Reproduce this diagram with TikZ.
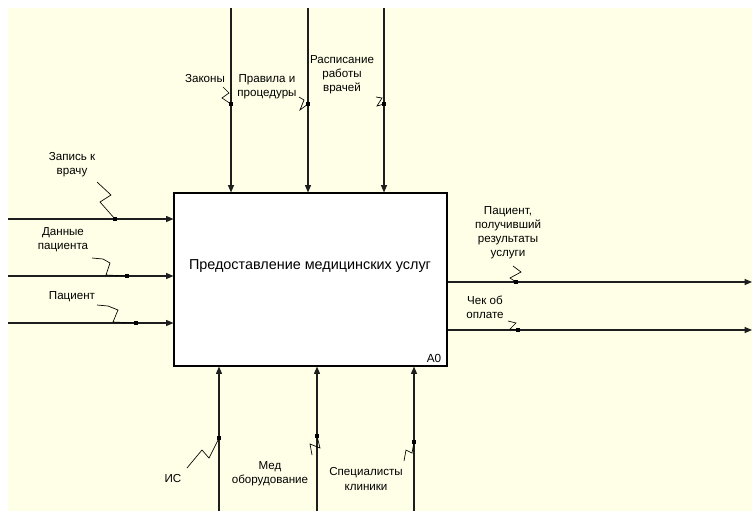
\documentclass[tikz,border=0pt]{standalone}
\usepackage{fontspec}
\setmainfont{Liberation Sans}
\usetikzlibrary{arrows.meta}
\definecolor{cream}{RGB}{255,255,232}
\definecolor{linegray}{RGB}{30,30,30}
\tikzset{
  arrowline/.style={draw=linegray,line width=0.8pt,-{Triangle[length=5.5pt,width=4.5pt]}},
  squig/.style={draw=black,line width=0.5pt},
  jdot/.style={fill=black,inner sep=0pt,minimum size=2.4pt},
  lbl/.style={font=\fontsize{8.7}{10.6}\selectfont,align=center,inner sep=0pt},
}
\begin{document}
\begin{tikzpicture}[x=0.75pt,y=-0.75pt]
\useasboundingbox (0,0) rectangle (752,511);
\fill[cream] (8,8) rectangle (752,511);

\node[draw=black,fill=white,line width=0.8pt,minimum width=204.75pt,minimum height=129.75pt,inner sep=0pt] (func) at (310.5,279.5) {};
\node[font=\fontsize{10.8}{12}\selectfont,inner sep=0pt] (title) at (310,266) {Предоставление медицинских услуг};
\node[font=\fontsize{8.8}{10}\selectfont,inner sep=0pt,anchor=south east] (num) at ([xshift=-4.5pt,yshift=3pt]func.south east) {A0};

\coordinate (in1) at (8,219);
\coordinate (in2) at (8,276);
\coordinate (in3) at (8,323);
\coordinate (ct1) at (231,8);
\coordinate (ct2) at (308,8);
\coordinate (ct3) at (384,8);
\coordinate (out1) at (752,282);
\coordinate (out2) at (752,330);
\coordinate (me1) at (219,511);
\coordinate (me2) at (317,511);
\coordinate (me3) at (414,511);

\draw[arrowline] (in1) -- (in1 -| func.west);
\draw[arrowline] (in2) -- (in2 -| func.west);
\draw[arrowline] (in3) -- (in3 -| func.west);
\draw[arrowline] (ct1) -- (ct1 |- func.north);
\draw[arrowline] (ct2) -- (ct2 |- func.north);
\draw[arrowline] (ct3) -- (ct3 |- func.north);
\draw[arrowline] (out1 -| func.east) -- (out1);
\draw[arrowline] (out2 -| func.east) -- (out2);
\draw[arrowline] (me1) -- (me1 |- func.south);
\draw[arrowline] (me2) -- (me2 |- func.south);
\draw[arrowline] (me3) -- (me3 |- func.south);

\node[jdot] (d1) at (115,219) {};
\node[jdot] (d2) at (127,276) {};
\node[jdot] (d3) at (136,323) {};
\node[jdot] (d4) at (231,104) {};
\node[jdot] (d5) at (308,104) {};
\node[jdot] (d6) at (384,104) {};
\node[jdot] (d7) at (516,282) {};
\node[jdot] (d8) at (518,330) {};
\node[jdot] (d9) at (219,438) {};
\node[jdot] (d10) at (317,436) {};
\node[jdot] (d11) at (414,442) {};

\node[lbl] (l1) at (72,165) {Запись к\\врачу};
\node[lbl] (l2) at (63,240) {Данные\\пациента};
\node[lbl] (l3) at (72,297) {Пациент};
\node[lbl] (l4) at (205,79) {Законы};
\node[lbl] (l5) at (267,87) {Правила и\\процедуры};
\node[lbl] (l6) at (342,75) {Расписание\\работы\\врачей};
\node[lbl] (l7) at (508,233) {Пациент,\\получивший\\результаты\\услуги};
\node[lbl] (l8) at (485,307) {Чек об\\оплате};
\node[lbl] (l9) at (173,478) {ИС};
\node[lbl] (l10) at (270,474) {Мед\\оборудование};
\node[lbl] (l11) at (366,479) {Специалисты\\клиники};

\draw[squig] (d1.center) -- (100,202) -- (111,195) -- (97,182);
\draw[squig] (d2.center) -- (106,275) -- (110,263) -- (103,259) -- (92,258);
\draw[squig] (d3.center) -- (113,322) -- (118,310) -- (108,306) -- (97,305);
\draw[squig] (d4.center) -- (222,98) -- (229,93) -- (223,87);
\draw[squig] (d5.center) -- (300,110) -- (304,100) -- (299,97);
\draw[squig] (d6.center) -- (377,106) -- (382,98) -- (376,97);
\draw[squig] (d7.center) -- (510,278) -- (521,272) -- (513,266);
\draw[squig] (d8.center) -- (510,329) -- (516,323) -- (508,321);
\draw[squig] (d9.center) -- (209,458) -- (202,450) -- (187,468);
\draw[squig] (d10.center) -- (320,448) -- (310,444) -- (312,455);
\draw[squig] (d11.center) -- (412,453) -- (406,450) -- (404,461);
\end{tikzpicture}
\end{document}
